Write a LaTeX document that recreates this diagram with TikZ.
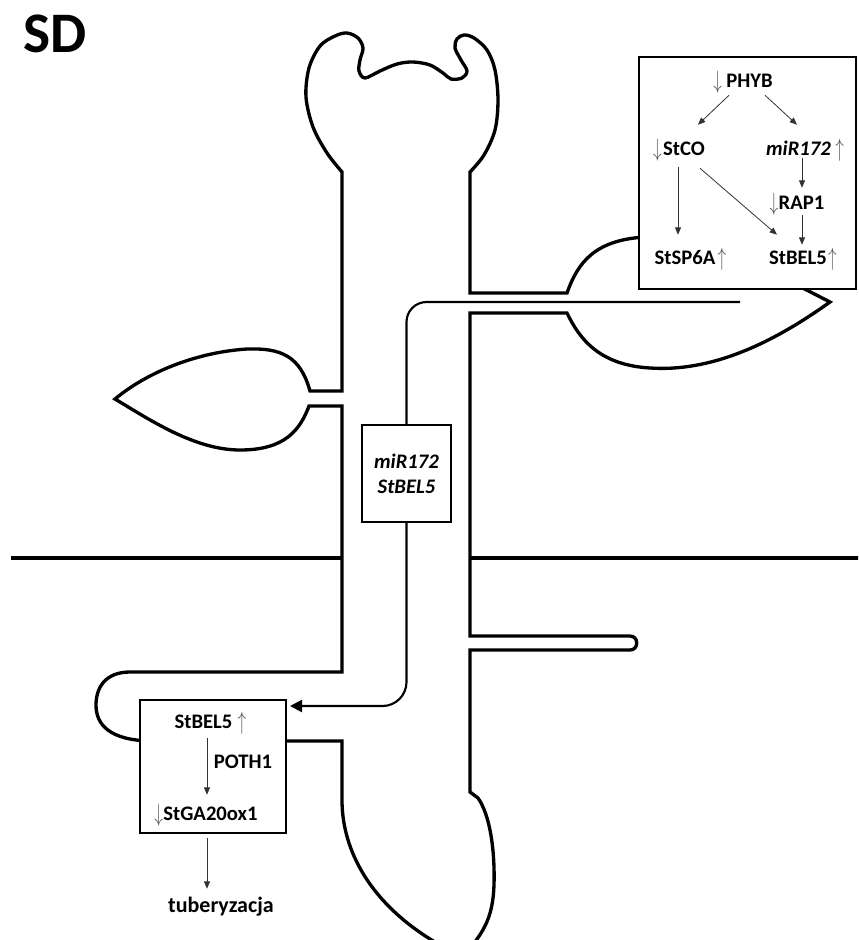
\documentclass[tikz,border=0pt]{standalone}
\usepackage{fontspec}
\setmainfont{Carlito}
\usetikzlibrary{arrows.meta,calc}
\newcommand\arglyph[1]{\raisebox{-1.2pt}{\textcolor{black!65}{\scalebox{0.9}[1.3]{$#1$}}}}
\newcommand\dnA[1]{\llap{\smash{\arglyph{\downarrow}}\hspace{#1}}}
\newcommand\upA[1]{\rlap{\hspace{#1}\smash{\arglyph{\uparrow}}}}
\begin{document}
\begin{tikzpicture}[x=0.75pt,y=-0.75pt,
  outl/.style={line width=2.5pt, line join=miter},
  boxn/.style={draw, fill=white, outer sep=0pt, inner sep=0pt, anchor=north west},
  lbl/.style={font=\bfseries\fontsize{15.5}{18}\selectfont, inner sep=0pt, text height=10.5pt, text depth=0pt, anchor=base},
  arr/.style={-{Triangle[length=5.5pt,width=4.5pt]}, line width=0.6pt, draw=black!80},
  sig/.style={line width=1.6pt}
]
\useasboundingbox (0,0) rectangle (858,940);
\clip (0,0) rectangle (858,940);

% title
\node[font=\bfseries\fontsize{43}{46}\selectfont, inner sep=0pt, anchor=base west] (sd) at (23,52) {SD};

% plant outline, upper-left part
\draw[outl] (645,237) .. controls (595,240) and (578,262) .. (567,293) -- (470,293) -- (470,172)
  -- plot[smooth, tension=0.55] coordinates {(470,172) (484,155) (495,130) (498,100) (495,70) (487,50) (474,38) (464,35) (457,39) (455,48) (461,60) (467,71) (462,78) (451,79) (443,73) (430,65) (413,62) (397,64) (380,71) (365,78) (359,71) (360,60) (363,48) (358,38) (347,33) (335,36) (320,46) (309,68) (306,97) (313,127) (327,153) (342,172)}
  -- (342,391) -- (310,391) .. controls (300,355) and (280,348) .. (247,349)
  .. controls (200,352) and (150,370) .. (115,399)
  .. controls (150,420) and (195,450) .. (240,450)
  .. controls (285,450) and (300,430) .. (309,406) -- (342,406) -- (342,672) -- (130,672)
  .. controls (105,672) and (96,688) .. (96,705)
  .. controls (96,725) and (110,740) .. (150,741);

% plant outline, lower-right part
\draw[outl] (200,741) -- (342,741) -- (342,800) .. controls (342,850) and (370,905) .. (440,945)
  .. controls (450,952) and (462,952) .. (470,948)
  .. controls (485,930) and (493,915) .. (494,885)
  .. controls (495,850) and (490,815) .. (478,798) -- (470,792) -- (470,650) -- (630,650)
  .. controls (639,650) and (639,636) .. (630,636) -- (470,636) -- (470,313) -- (567,313)
  .. controls (580,340) and (600,365) .. (650,368)
  .. controls (710,372) and (770,345) .. (830,302) -- (795,284);

% ground
\draw[outl] (11,558) -- (342,558);
\draw[outl] (470,558) -- (862,558);

% boxes
\node[boxn, line width=2pt, minimum width=162.75pt, minimum height=174pt] (topbox) at (639,57) {};
\node[boxn, line width=1.5pt, minimum width=66.75pt, minimum height=72.75pt, align=center,
  font=\bfseries\itshape\fontsize{15.5}{18.75}\selectfont] (midbox) at (362,425) {miR172\\StBEL5};
\node[boxn, line width=2.2pt, minimum width=109.5pt, minimum height=99.75pt] (lowbox) at (140,700) {};

% top box texts
\node[lbl] (phyb) at (749.5,87) {\dnA{3.3pt}PHYB};
\node[lbl] (stco) at (684,155) {\dnA{1pt}StCO};
\node[lbl] (mir) at (798.5,155) {\textit{miR172}\upA{3.3pt}};
\node[lbl] (rap) at (801.5,209) {\dnA{0.25pt}RAP1};
\node[lbl] (sp6a) at (685,264) {StSP6A\upA{1.75pt}};
\node[lbl] (bel) at (798,264) {StBEL5\upA{1pt}};

% top box connectors
\draw[arr] ([shift={(-20.5,8)}]phyb.south) -- ([shift={(14,-16)}]stco.north);
\draw[arr] ([shift={(15.5,8)}]phyb.south) -- ([shift={(-1.5,-16)}]mir.north);
\draw[arr] ([shift={(-6,12)}]stco.south) -- ([shift={(-7,-15)}]sp6a.north);
\draw[arr] ([shift={(16,13)}]stco.south) -- ([shift={(-21,-15)}]bel.north);
\draw[arr] ([shift={(3.5,3)}]mir.south) -- ([shift={(0.5,-7)}]rap.north);
\draw[arr] ([shift={(0.5,6)}]rap.south) -- ([shift={(4,-5)}]bel.north);

% lower box texts
\node[lbl] (bel2) at (203.5,728) {StBEL5\upA{4pt}};
\node[lbl] (poth) at (243,768) {POTH1};
\node[lbl] (ga) at (210.5,820) {\dnA{0.25pt}StGA20ox1};
\node[lbl, font=\bfseries\fontsize{16.5}{19}\selectfont] (tub) at (221,912) {tuberyzacja};

\draw[arr] ([shift={(3.5,10)}]bel2.south) -- ([shift={(-3.5,-11)}]ga.north);
\draw[arr] ([shift={(-6,5)}]lowbox.south) -- ([shift={(-14,-9)}]tub.north);

% mobile signal
\coordinate (sig0) at (740,302);
\draw[sig, rounded corners=15pt] (sig0) -| (midbox.north);
\draw[sig, rounded corners=18pt, -{Triangle[length=9pt,width=9pt]}] (midbox.south) |- ([shift={(4,6)}]lowbox.north east);
\end{tikzpicture}
\end{document}
